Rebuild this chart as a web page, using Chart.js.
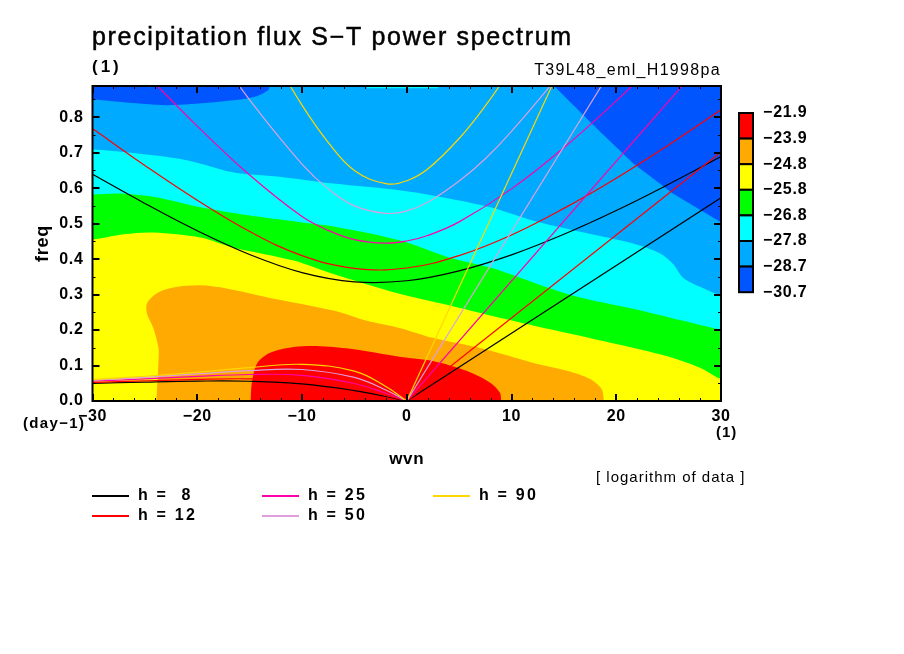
<!DOCTYPE html>
<html>
<head>
<meta charset="utf-8">
<title>precipitation flux S-T power spectrum</title>
<script src="https://cdn.jsdelivr.net/npm/chart.js@4"></script>
<style>
  html, body { margin: 0; padding: 0; background: #fff; }
  canvas { display: block; }
</style>
</head>
<body>
<canvas id="spectrum" width="904" height="654"></canvas>
<script>
// tick labels
const xLabelled = [-30, -20, -10, 0, 10, 20, 30];
const yLabelled = [0, 0.1, 0.2, 0.3, 0.4, 0.5, 0.6, 0.7, 0.8];

// colour bar
const barLabels = ['−21.9', '−23.9', '−24.8', '−25.8', '−26.8', '−27.8', '−28.7', '−30.7'];
const barColors = ['#ff0000', '#ffaa00', '#ffff00', '#00ff00', '#00ffff', '#00aaff', '#0055ff'];

// contour boundaries, [wvn, freq]
const blueLeft = [[-30,.851],[-26.1,.840],[-22.9,.834],[-18.1,.843],[-14.6,.857],[-13.2,.877],[-13.1,.89]];
const blueRight = [[14,.89],[17.8,.778],[21.6,.670],[25.4,.585],[30,.504]];
const cyanStrip = [[-3.8,.892],[-3.8,.882],[3,.882],[3,.892]];
const cyanTop = [[-30,.710],[-26.1,.699],[-21,.679],[-16.6,.645],[-11.8,.631],[-7,.613],[-.7,.594],[3.5,.574],[8,.546],[12,.509],[16.9,.475],[21.6,.444],[24.2,.416],[25.4,.387],[26.4,.347],[28,.322],[30,.297]];
const greenTop = [[-30,.582],[-27.4,.585],[-23.8,.574],[-19.7,.546],[-15.3,.524],[-10.2,.504],[-7,.492],[-.7,.453],[4.1,.404],[8,.376],[12,.335],[15.9,.297],[21.6,.260],[26.4,.226],[30,.201]];
const yellowTop = [[-30,.455],[-27,.470],[-24.2,.475],[-19.7,.461],[-16.6,.433],[-10.8,.396],[-7,.358],[-.7,.302],[4.1,.269],[7.3,.246],[11.3,.218],[15.3,.192],[20,.161],[24.8,.127],[28,.094],[30,.062]];
const orangeEdge = [[-23.9,0],[-23.7,.113],[-23.7,.150],[-24.2,.206],[-24.8,.246],[-24.8,.275],[-23.9,.303],[-22.3,.320],[-19.7,.326],[-17.2,.317],[-13.3,.292],[-7,.255],[-3.8,.226],[-.7,.206],[2.5,.178],[7.3,.147],[12,.108],[15.3,.085],[17.5,.062],[18.6,.034],[18.8,0]];
const redEdge = [[-14.9,0],[-14.8,.048],[-14.3,.105],[-13.1,.135],[-10.8,.152],[-8.6,.155],[-5.4,.147],[-.7,.125],[2.5,.113],[5.7,.085],[8,.051],[8.9,.023],[9,0]];

// dispersion curves, [wvn, freq]
const lowH8 = [[-30,.0495],[-25,.0534],[-20,.0561],[-15,.0557],[-10,.0484],[-5,.0295],[-2,.0126],[0,0]];
const lowH12 = [[-30,.0520],[-25,.0569],[-20,.0611],[-15,.0624],[-10,.0562],[-5,.0356],[-2,.0154],[0,0]];
const lowH25 = [[-30,.0558],[-25,.0624],[-20,.0694],[-15,.0747],[-10,.0722],[-5,.0494],[-2,.0220],[0,0]];
const lowH50 = [[-30,.0587],[-25,.0668],[-20,.0763],[-15,.0857],[-10,.0888],[-5,.0664],[-2,.0309],[0,0]];
const lowH90 = [[-30,.0605],[-25,.0697],[-20,.0812],[-15,.0943],[-10,.1034],[-5,.0843],[-2,.0410],[0,0]];

const upH8 = [[-30,.639],[-25,.557],[-20,.480],[-15,.413],[-10,.362],[-5,.336],[0,.339],[5,.367],[10,.412],[15,.470],[20,.537],[25,.611],[30,.689]];
const upH12 = [[-30,.768],[-25,.664],[-20,.566],[-15,.478],[-10,.410],[-5,.374],[0,.375],[5,.410],[10,.468],[15,.543],[20,.628],[25,.722],[30,.821]];
const upH25 = [[-25,.924],[-20,.775],[-15,.637],[-10,.520],[-7.5,.481],[-5,.455],[-2,.445],[0,.451],[2,.4665],[5,.505],[10,.598],[15,.714],[20,.846],[25,.988]];
const upH50 = [[-20,1.056],[-15,.849],[-10,.668],[-7.5,.598],[-5,.550],[-2,.529],[0,.536],[2,.560],[5,.620],[7.5,.683],[10,.760],[15,.936],[20,1.132]];
const upH90 = [[-15,1.094],[-12.5,.959],[-10,.834],[-7.5,.729],[-5,.650],[-2,.613],[0,.621],[2,.654],[5,.740],[7.5,.832],[10,.940],[15,1.187]];

const kelvinH8 = [[0,0],[30,.573]];
const kelvinH12 = [[0,0],[30,.702]];
const kelvinH25 = [[0,0],[30,1.014]];
const kelvinH50 = [[0,0],[30,1.434]];
const kelvinH90 = [[0,0],[30,1.923]];

// legend
const depthLabels = ['h =  8', 'h = 12', 'h = 25', 'h = 50', 'h = 90'];
const depthColors = ['#000000', '#ff0000', '#ff00aa', '#dda0dd', '#ffd700'];

const FONT = 'Liberation Sans';
const toPoints = list => list.map(p => ({x: p[0], y: p[1]}));

// everything below the curve, painted over the layer behind it
function belowCurve(curve, color) {
  const pts = [[-31, -0.1], [-31, curve[0][1]]].concat(curve, [[31, curve[curve.length - 1][1]], [31, -0.1]]);
  return region(pts, color, 0.3);
}
function region(pts, color, smooth) {
  return {data: toPoints(pts), showLine: true, pointRadius: 0, borderWidth: 0, tension: smooth || 0,
          backgroundColor: color, fill: 'shape'};
}
function curve(pts, color, smooth) {
  return {data: toPoints(pts), showLine: true, pointRadius: 0, borderWidth: 1.2, borderColor: color,
          tension: smooth ? 0.4 : 0, fill: false};
}

const layers = [
  region([[-31,-.1],[-31,1],[31,1],[31,-.1]], barColors[5]),
  region(blueLeft.concat([[-13.1,1],[-31,1]]), barColors[6], 0.3),
  region(blueRight.concat([[31,.49],[31,1],[14,1]]), barColors[6]),
  region(cyanStrip, barColors[4]),
  belowCurve(cyanTop, barColors[4]),
  belowCurve(greenTop, barColors[3]),
  belowCurve(yellowTop, barColors[2]),
  region(orangeEdge.concat([[18.8,-.1],[-23.9,-.1]]), barColors[1], 0.3),
  region(redEdge.concat([[9,-.1],[-14.9,-.1]]), barColors[0], 0.3)
];
const lowCurves = [lowH8, lowH12, lowH25, lowH50, lowH90];
const upCurves = [upH8, upH12, upH25, upH50, upH90];
const kelvinLines = [kelvinH8, kelvinH12, kelvinH25, kelvinH50, kelvinH90];
const lines = [];
depthColors.forEach((color, i) => {
  lines.push(curve(lowCurves[i], color, true));
  lines.push(curve(upCurves[i], color, true));
  lines.push(curve(kelvinLines[i], color, false));
});

function label(ctx, str, x, y, font, align, spacing, heavy) {
  ctx.save();
  ctx.font = font;
  ctx.fillStyle = '#000';
  ctx.textAlign = align || 'left';
  ctx.textBaseline = 'middle';
  ctx.letterSpacing = (spacing || 0) + 'px';
  ctx.fillText(str, x, y);
  if (heavy) {
    ctx.strokeStyle = '#000';
    ctx.lineWidth = heavy;
    ctx.strokeText(str, x, y);
  }
  ctx.restore();
}

// inward ticks on all four sides plus the frame
const framePlugin = {
  id: 'frame',
  beforeDraw(chart) {
    chart.ctx.letterSpacing = '0.7px';
  },
  afterDatasetsDraw(chart) {
    const ctx = chart.ctx, a = chart.chartArea, sx = chart.scales.x, sy = chart.scales.y;
    ctx.save();
    ctx.strokeStyle = '#000';
    sx.ticks.forEach(t => {
      const major = xLabelled.includes(t.value);
      const px = Math.round(sx.getPixelForValue(t.value)) + (major ? 0 : 0.5);
      const len = major ? 7 : 3;
      ctx.lineWidth = major ? 2 : 1;
      ctx.beginPath();
      ctx.moveTo(px, a.bottom); ctx.lineTo(px, a.bottom - len);
      ctx.moveTo(px, a.top); ctx.lineTo(px, a.top + len);
      ctx.stroke();
    });
    sy.ticks.forEach(t => {
      const major = Math.round(t.value * 100) % 10 === 0;
      const py = Math.round(sy.getPixelForValue(t.value)) + (major ? 0 : 0.5);
      const len = major ? 7 : 3;
      ctx.lineWidth = major ? 2 : 1;
      ctx.beginPath();
      ctx.moveTo(a.left, py); ctx.lineTo(a.left + len, py);
      ctx.moveTo(a.right, py); ctx.lineTo(a.right - len, py);
      ctx.stroke();
    });
    ctx.lineWidth = 2;
    ctx.strokeRect(a.left, a.top, a.right - a.left, a.bottom - a.top);
    ctx.restore();
  }
};

// title, unit notes, colour bar and legend
const notesPlugin = {
  id: 'notes',
  afterDraw(chart) {
    const ctx = chart.ctx;
    const bold = 'bold 16px "' + FONT + '"';
    const thin = '16px "' + FONT + '"';
    label(ctx, 'precipitation flux S−T power spectrum', 92, 38, '25px "' + FONT + '"', 'left', 1.67, 0.5);
    label(ctx, '(1)', 92, 67, 'bold 17px "' + FONT + '"', 'left', 3);
    label(ctx, 'T39L48_eml_H1998pa', 721, 71, thin, 'right', 1.33);
    label(ctx, '(day−1)', 23, 424, 'bold 15px "' + FONT + '"', 'left', 1.35);
    label(ctx, '(1)', 716, 433, 'bold 15px "' + FONT + '"', 'left', 1);
    label(ctx, '[ logarithm of data ]', 596, 478, '15px "' + FONT + '"', 'left', 1);

    const barTop = 113, barStep = 25.6;
    ctx.save();
    barColors.forEach((color, i) => {
      ctx.fillStyle = color;
      ctx.fillRect(739, barTop + i * barStep, 14, barStep);
      ctx.strokeStyle = '#000';
      ctx.lineWidth = 2;
      ctx.strokeRect(739, barTop + i * barStep, 14, barStep);
    });
    ctx.restore();
    barLabels.forEach((text, i) => label(ctx, text, 763, barTop + i * barStep, bold, 'left', 0.8));

    const slots = [[92, 496], [92, 516], [262, 496], [262, 516], [433, 496]];
    depthLabels.forEach((text, i) => {
      const [x, y] = slots[i];
      ctx.save();
      ctx.strokeStyle = depthColors[i];
      ctx.lineWidth = 2;
      ctx.beginPath();
      ctx.moveTo(x, y); ctx.lineTo(x + 37, y);
      ctx.stroke();
      ctx.restore();
      label(ctx, text, x + 46, y, bold, 'left', 2.2);
    });
  }
};

new Chart(document.getElementById('spectrum').getContext('2d'), {
  type: 'scatter',
  // first dataset is drawn last, so the lines lead and the layers follow top to bottom
  data: {datasets: lines.reverse().concat(layers.reverse())},
  plugins: [framePlugin, notesPlugin],
  options: {
    responsive: false,
    animation: false,
    layout: {autoPadding: false, padding: {left: 0, top: 86, right: 183, bottom: 184}},
    plugins: {legend: {display: false}, tooltip: {enabled: false}},
    scales: {
      x: {
        type: 'linear', min: -30, max: 30,
        grid: {display: false}, border: {display: false},
        afterFit: s => { s.height = 69; },
        ticks: {
          stepSize: 2, autoSkip: false, maxRotation: 0, padding: -2, color: '#000',
          font: {family: FONT, size: 16, weight: 'bold'},
          callback: v => xLabelled.includes(v) ? String(v).replace('-', '−') : ''
        },
        title: {display: true, text: 'wvn', color: '#000', padding: {top: 0, bottom: 0},
                font: {family: FONT, size: 17, weight: 'bold'}}
      },
      y: {
        type: 'linear', min: 0, max: 0.888,
        grid: {display: false}, border: {display: false},
        afterFit: s => { s.width = 92.5; },
        ticks: {
          stepSize: 0.05, autoSkip: false, includeBounds: false, padding: 1, color: '#000',
          font: {family: FONT, size: 16, weight: 'bold'},
          callback: v => yLabelled.includes(Math.round(v * 10) / 10) && Math.round(v * 100) % 10 === 0 ? v.toFixed(1) : ''
        },
        title: {display: true, text: 'freq', color: '#000', padding: {top: 32, bottom: 0},
                font: {family: FONT, size: 18, weight: 'bold'}}
      }
    }
  }
});
</script>
</body>
</html>
